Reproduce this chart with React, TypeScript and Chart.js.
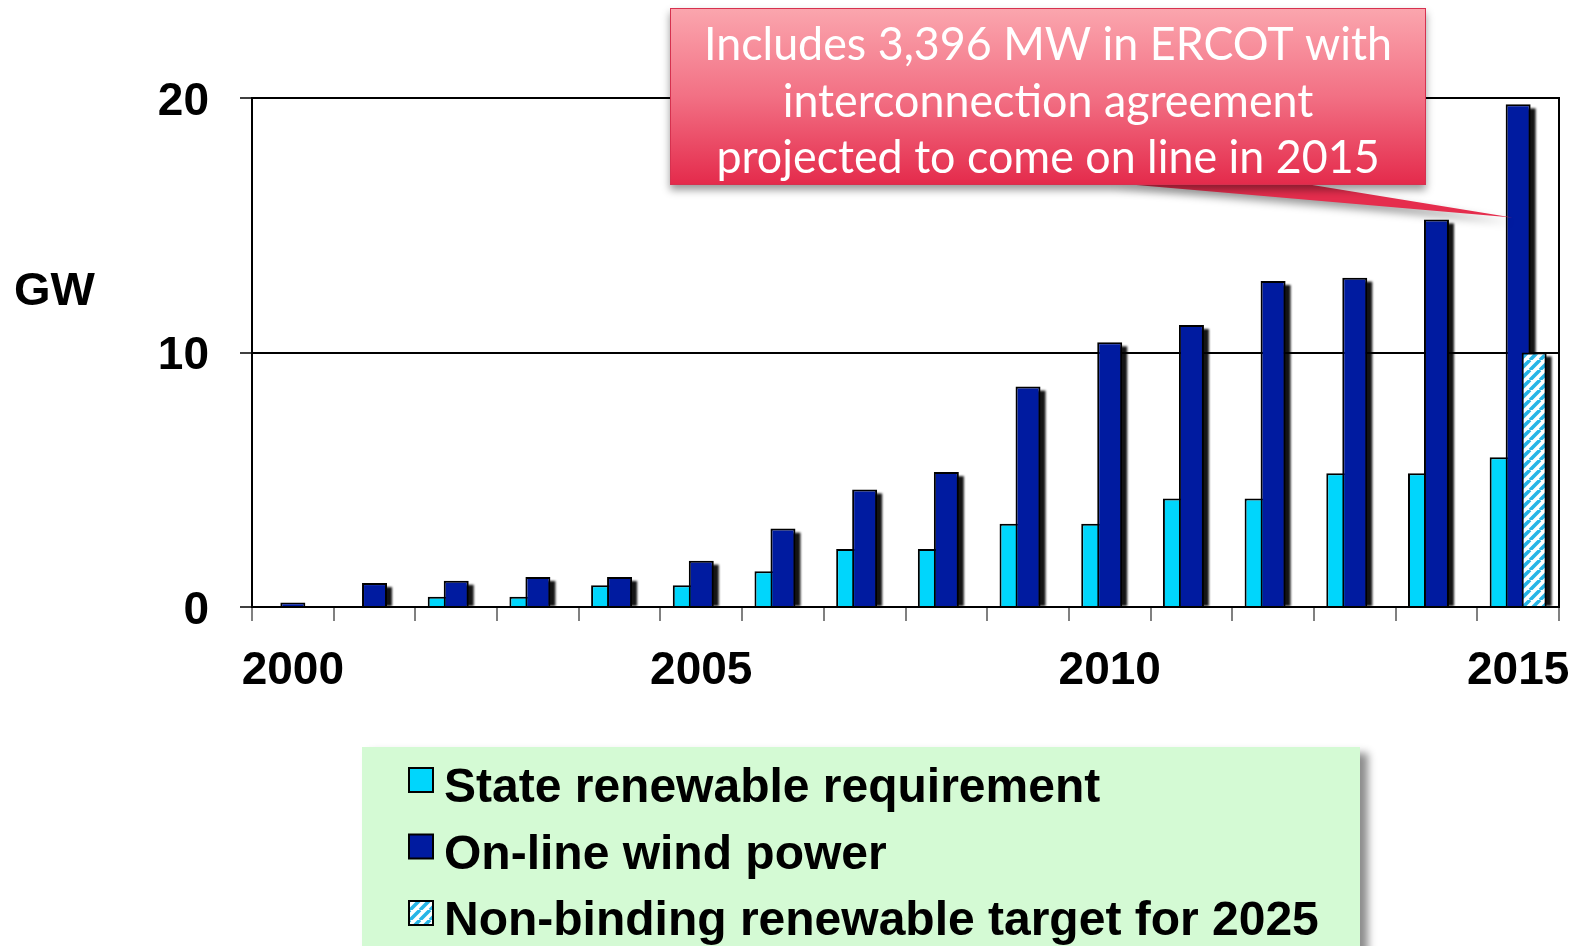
import React, { useEffect, useRef } from "react";
import { Chart, registerables } from "chart.js";

Chart.register(...registerables);

// ---------- data ----------
const years = [
  "2000", "2001", "2002", "2003", "2004", "2005", "2006", "2007",
  "2008", "2009", "2010", "2011", "2012", "2013", "2014", "2015",
];
const labeledYears = ["2000", "2005", "2010", "2015"];
const stateRequirement = [
  null, null, 0.4, 0.4, 0.85, 0.85, 1.4, 2.28,
  2.28, 3.27, 3.27, 4.26, 4.26, 5.26, 5.26, 5.88,
];
const onlineWind = [
  0.18, 0.94, 1.03, 1.18, 1.18, 1.82, 3.08, 4.62,
  5.3, 8.66, 10.4, 11.08, 12.81, 12.94, 15.23, 19.75,
];
const nonBindingTarget = [
  null, null, null, null, null, null, null, null,
  null, null, null, null, null, null, null, 10,
];
const seriesNames = [
  "State renewable requirement",
  "On-line wind power",
  "Non-binding renewable target for 2025",
];
const yMin = 0;
const yMax = 20;
const yStep = 10;
const yAxisTitle = "GW";
const calloutLines = [
  "Includes 3,396 MW in ERCOT with",
  "interconnection agreement",
  "projected to come on line in 2015",
];
const calloutPointValue = 15.3;

// ---------- style ----------
const CYAN = "#00d6fc";
const NAVY = "#001ba0";
const STRIPE = "#27b4e6";
const AXIS_FONT = '"Liberation Sans", Arial, sans-serif';

function makeHatch(ctx: CanvasRenderingContext2D): CanvasPattern | string {
  const n = 10;
  const c = document.createElement("canvas");
  c.width = n;
  c.height = n;
  const g = c.getContext("2d");
  if (!g) return STRIPE;
  g.fillStyle = "#ffffff";
  g.fillRect(0, 0, n, n);
  g.strokeStyle = STRIPE;
  g.lineWidth = 3.6;
  g.beginPath();
  for (let k = -1; k <= 1; k++) {
    g.moveTo(k * n, n);
    g.lineTo(k * n + n, 0);
  }
  g.stroke();
  return ctx.createPattern(c, "repeat") || STRIPE;
}

const customDraw = {
  id: "customDraw",
  beforeDatasetsDraw(chart: any) {
    const { ctx, chartArea: a } = chart;
    // top and right frame
    ctx.save();
    ctx.strokeStyle = "#000";
    ctx.lineWidth = 2;
    ctx.beginPath();
    ctx.moveTo(a.left, a.top);
    ctx.lineTo(a.right, a.top);
    ctx.lineTo(a.right, a.bottom);
    ctx.stroke();
    ctx.restore();

    const metas = chart.getSortedVisibleDatasetMetas();
    metas.forEach((meta: any) => {
      ctx.save();
      ctx.filter = "blur(1px)";
      ctx.fillStyle = "rgba(0,0,0,0.92)";
      meta.data.forEach((el: any, i: number) => {
        const v = meta.controller.getParsed(i).y;
        if (v === null || v === undefined || isNaN(v)) return;
        const p = el.getProps(["x", "y", "base", "width"], true);
        if (!isFinite(p.y) || !isFinite(p.base)) return;
        const h = p.base - p.y - 4;
        if (h <= 0) return;
        ctx.fillRect(p.x - p.width / 2 + 5, p.y + 4, p.width, h);
      });
      ctx.restore();
      meta.controller.draw();
    });
    return false;
  },
  afterDraw(chart: any) {
    const { ctx } = chart;
    const yScale = chart.scales.y;

    // y-axis title
    ctx.save();
    ctx.fillStyle = "#000";
    ctx.font = `bold 47px ${AXIS_FONT}`;
    ctx.textBaseline = "alphabetic";
    ctx.textAlign = "left";
    ctx.fillText(yAxisTitle, 14, 305);
    ctx.restore();

    // legend panel
    ctx.save();
    ctx.shadowColor = "rgba(0,0,0,0.45)";
    ctx.shadowBlur = 8;
    ctx.shadowOffsetX = 8;
    ctx.shadowOffsetY = 6;
    ctx.fillStyle = "#d4fad4";
    ctx.fillRect(362, 747, 998, 220);
    ctx.restore();

    chart.data.datasets.forEach((ds: any, i: number) => {
      const top = 768 + i * 66.5;
      ctx.save();
      ctx.fillStyle = ds.backgroundColor;
      ctx.fillRect(409, top, 24, 24);
      ctx.lineWidth = 2;
      ctx.strokeStyle = "#000";
      ctx.strokeRect(409, top, 24, 24);
      ctx.fillStyle = "#000";
      ctx.font = `bold 48px ${AXIS_FONT}`;
      ctx.textBaseline = "alphabetic";
      ctx.textAlign = "left";
      ctx.fillText(ds.label, 444, 802 + i * 66.5);
      ctx.restore();
    });

    // callout
    const darkMeta = chart.getDatasetMeta(1);
    const lastEl = darkMeta.data[darkMeta.data.length - 1];
    const tipX = lastEl.x - 6;
    const tipY = yScale.getPixelForValue(calloutPointValue);
    const bx = 670, by = 8, bw = 756, bh = 177;

    ctx.save();
    ctx.shadowColor = "rgba(0,0,0,0.4)";
    ctx.shadowBlur = 8;
    ctx.shadowOffsetX = 0;
    ctx.shadowOffsetY = 5;
    ctx.fillStyle = "#e52d4d";
    ctx.beginPath();
    ctx.moveTo(1113, by + bh - 2);
    ctx.lineTo(1300, by + bh - 2);
    ctx.lineTo(tipX, tipY);
    ctx.closePath();
    ctx.fill();
    const grad = ctx.createLinearGradient(0, by, 0, by + bh);
    grad.addColorStop(0, "#fba6ae");
    grad.addColorStop(0.5, "#f27084");
    grad.addColorStop(1, "#e42a4b");
    ctx.fillStyle = grad;
    ctx.fillRect(bx, by, bw, bh);
    ctx.restore();

    ctx.save();
    ctx.strokeStyle = "#d6314f";
    ctx.lineWidth = 1;
    ctx.strokeRect(bx + 0.5, by + 0.5, bw - 1, bh - 1);
    ctx.restore();

    ctx.save();
    ctx.fillStyle = "#ffffff";
    ctx.font = '47px Lato, "Open Sans", sans-serif';
    ctx.textAlign = "center";
    ctx.textBaseline = "alphabetic";
    const w1 = ctx.measureText(calloutLines[0]).width;
    const sx = 688 / w1;
    const cx = bx + bw / 2;
    calloutLines.forEach((line, i) => {
      ctx.save();
      ctx.translate(cx, 60 + i * 56.5);
      ctx.scale(sx, 1);
      ctx.fillText(line, 0, 0);
      ctx.restore();
    });
    ctx.restore();
  },
};

export default function App() {
  const ref = useRef<HTMLCanvasElement>(null);

  useEffect(() => {
    const canvas = ref.current;
    if (!canvas) return;
    const ctx = canvas.getContext("2d");
    if (!ctx) return;
    const hatch = makeHatch(ctx);

    const barCommon = {
      borderColor: "#000",
      borderWidth: 2,
      borderSkipped: "start" as const,
      categoryPercentage: 0.5875,
      barPercentage: 1.5625,
    };

    const chart = new Chart(canvas, {
      type: "bar",
      data: {
        labels: years,
        datasets: [
          { label: seriesNames[0], data: stateRequirement, backgroundColor: CYAN, ...barCommon },
          { label: seriesNames[1], data: onlineWind, backgroundColor: NAVY, ...barCommon },
          { label: seriesNames[2], data: nonBindingTarget, backgroundColor: hatch as any, ...barCommon },
        ],
      },
      options: {
        animation: false,
        responsive: false,
        devicePixelRatio: 1,
        layout: { padding: { top: 98, right: 22, left: 0, bottom: 0 } },
        plugins: {
          legend: { display: false },
          tooltip: { enabled: false },
        },
        scales: {
          x: {
            type: "category",
            offset: true,
            grid: {
              display: true,
              offset: true,
              drawOnChartArea: false,
              drawTicks: true,
              tickLength: 14,
              color: "#808080",
              lineWidth: 2,
            },
            border: { display: true, color: "#000", width: 2, z: 1 },
            ticks: {
              autoSkip: false,
              maxRotation: 0,
              minRotation: 0,
              padding: 23,
              color: "#000",
              font: { family: AXIS_FONT, size: 46, weight: "bold" },
              callback: (_v: any, i: number) =>
                labeledYears.includes(years[i]) ? years[i] : "",
            },
            afterFit: (scale: any) => {
              scale.height = 339;
              scale.paddingLeft = 0;
              scale.paddingRight = 0;
            },
          },
          y: {
            min: yMin,
            max: yMax,
            grid: {
              color: "#000",
              lineWidth: 2,
              drawTicks: true,
              tickLength: 12,
              tickColor: "#000",
              tickWidth: 1.5,
            },
            border: { display: true, color: "#000", width: 2 },
            ticks: {
              stepSize: yStep,
              padding: 31,
              labelOffset: 4,
              color: "#000",
              font: { family: AXIS_FONT, size: 46, weight: "bold" },
            },
            afterFit: (scale: any) => {
              scale.width = 252;
              scale.paddingTop = 0;
              scale.paddingBottom = 0;
            },
          },
        },
      },
      plugins: [customDraw],
    });

    return () => chart.destroy();
  }, []);

  return (
    <div
      style={{
        position: "absolute",
        left: 0,
        top: 0,
        width: 1581,
        height: 946,
        background: "#ffffff",
        overflow: "hidden",
      }}
    >
      <canvas ref={ref} width={1581} height={946} style={{ display: "block" }} />
    </div>
  );
}
